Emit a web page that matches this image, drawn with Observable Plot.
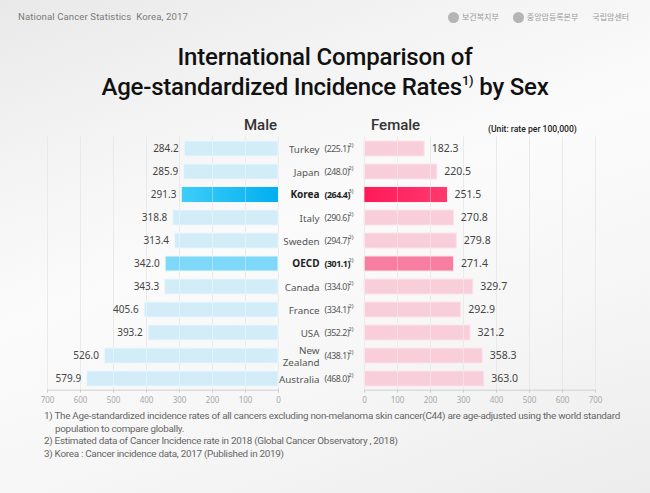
<!DOCTYPE html>
<html><head><meta charset="utf-8">
<script src="https://cdn.jsdelivr.net/npm/d3@7"></script>
<script src="https://cdn.jsdelivr.net/npm/@observablehq/plot@0.6"></script>
<style>
html,body{margin:0;padding:0;}
body{width:650px;height:493px;overflow:hidden;position:relative;font-family:Roboto,"Noto Sans",sans-serif;
 background:linear-gradient(160deg,#e9e9e9 0%,#f4f4f4 25%,#fbfbfb 45%,#f6f6f6 70%,#ececec 100%);}
.abs{position:absolute;white-space:nowrap;}
#hdr{left:18px;top:11px;font-size:9.6px;color:#7a7a7a;letter-spacing:0.1px;}
#logos{left:448px;top:11px;font-family:"Noto Sans CJK KR",sans-serif;font-size:8px;color:#9a9a9a;}
#logos span{margin-right:14px;}
#logos i{display:inline-block;width:11px;height:11px;border-radius:50%;background:#b5b5b5;vertical-align:middle;margin-right:3px;}
#title{left:0;width:650px;top:42px;text-align:center;font-size:24px;font-weight:500;color:#111;line-height:30px;letter-spacing:-0.2px;}
#title sup{font-size:13px;vertical-align:10px;line-height:0;}
.hd{font-size:15px;font-weight:500;color:#333;}
#male{left:244px;top:116px;}
#female{left:371px;top:116px;}
#unit{left:488px;top:124px;font-size:8.6px;font-weight:500;color:#222;}
#notes{left:44px;top:410px;font-size:9.9px;color:#666;line-height:12.6px;letter-spacing:-0.28px;}
#notes div.ind{padding-left:11px;}
svg{overflow:visible;}
g[aria-description="paren"] text{letter-spacing:-0.45px;}
</style></head><body>
<div class="abs" id="hdr">National Cancer Statistics&nbsp;&nbsp;Korea, 2017</div>
<div class="abs" id="logos"><span><i></i>보건복지부</span><span><i></i>중앙암등록본부</span><span>국립암센터</span></div>
<div class="abs" id="title">International Comparison of<br>Age-standardized Incidence Rates<sup>1)</sup> by Sex</div>
<div class="abs hd" id="male">Male</div>
<div class="abs hd" id="female">Female</div>
<div class="abs" id="unit">(Unit: rate per 100,000)</div>
<div class="abs" id="notes">
<div>1) The Age-standardized incidence rates of all cancers excluding non-melanoma skin cancer(C44) are age-adjusted using the world standard</div>
<div class="ind">population to compare globally.</div>
<div>2) Estimated data of Cancer Incidence rate in 2018 (Global Cancer Observatory , 2018)</div>
<div>3) Korea : Cancer incidence data, 2017 (Published in 2019)</div>
</div>
<div class="abs" id="leftChart" style="left:0;top:120px;"></div>
<div class="abs" id="rightChart" style="left:360px;top:120px;"></div>
<script>
const countries = ["Turkey","Japan","Korea","Italy","Sweden","OECD","Canada","France","USA","New Zealand","Australia"];
const countryLabels = ["Turkey","Japan","Korea","Italy","Sweden","OECD","Canada","France","USA","New\nZealand","Australia"];
const maleRates = [284.2,285.9,291.3,318.8,313.4,342.0,343.3,405.6,393.2,526.0,579.9];
const femaleRates = [182.3,220.5,251.5,270.8,279.8,271.4,329.7,292.9,321.2,358.3,363.0];
const totalRates = [225.1,248.0,264.4,290.6,294.7,301.1,334.0,334.1,352.2,438.1,468.0];
const noteMarks = ["2)","2)","3)","2)","2)","2)","2)","2)","2)","2)","2)"];
const xTicks = [0,100,200,300,400,500,600,700];

const rows = countries.map((c,i)=>({country:c,label:countryLabels[i],male:maleRates[i],female:femaleRates[i],total:totalRates[i],note:noteMarks[i],bold:(c==="Korea"||c==="OECD")}));

const maleColor = d => d.country==="Korea" ? "#1cbdf4" : d.country==="OECD" ? "#7fd8f8" : "#d2ecf8";
const femaleColor = d => d.country==="Korea" ? "#ff275f" : d.country==="OECD" ? "#f77ea1" : "#f8cedb";

function defs(){
  const d = d3.create("svg:defs");
  const g1 = d.append("linearGradient").attr("id","gMale");
  g1.append("stop").attr("offset","0").attr("stop-color","#3fcdf9");
  g1.append("stop").attr("offset","1").attr("stop-color","#00aff0");
  const g2 = d.append("linearGradient").attr("id","gFemale");
  g2.append("stop").attr("offset","0").attr("stop-color","#ff1a58");
  g2.append("stop").attr("offset","1").attr("stop-color","#ff3a6e");
  return d.node();
}

const common = {height:290, marginTop:16.7, marginBottom:20.3, style:{background:"transparent",overflow:"visible"}};
const yScale = {domain:countries, paddingInner:0.35, paddingOuter:0.15, axis:null};
const axisOpts = {tickSize:3,tickPadding:4,fontSize:8,stroke:"#cfcfcf",fill:"#a8a8a8",tickFormat:d=>d,label:null};

const left = Plot.plot({
  ...common, width:360, marginLeft:47, marginRight:82,
  x:{domain:[0,700], reverse:true, axis:null},
  y:yScale,
  marks:[
    defs,
    Plot.gridX(xTicks,{stroke:"#d8d8d8",strokeOpacity:0.8}),
    Plot.barX(rows,{x:"male",y:"country",fill:maleColor,stroke:"#eaf7fd",strokeWidth:1}),
    Plot.barX(rows.filter(d=>d.country==="Korea"),{x:"male",y:"country",fill:"url(#gMale)"}),
    Plot.gridX(xTicks,{stroke:"#ffffff",strokeOpacity:0.35}),
    Plot.frame({anchor:"bottom",stroke:"#cfcfcf"}),
    Plot.axisX(xTicks,axisOpts),
    Plot.text(rows,{x:"male",y:"country",text:d=>d.male.toFixed(1),textAnchor:"end",dx:-6,fontSize:10,fill:"#444"}),
    Plot.text(rows.filter(d=>!d.bold),{y:"country",frameAnchor:"right",text:"label",textAnchor:"end",dx:41,fontSize:9.8,fill:"#555",lineHeight:1.2}),
    Plot.text(rows.filter(d=>d.bold),{y:"country",frameAnchor:"right",text:"label",textAnchor:"end",dx:41,fontSize:10,fontWeight:"bold",fill:"#222"}),
    Plot.text(rows.filter(d=>!d.bold),{y:"country",frameAnchor:"right",text:d=>`(${d.total.toFixed(1)})`,textAnchor:"start",dx:46,fontSize:8.8,fill:"#555",ariaDescription:"paren"}),
    Plot.text(rows.filter(d=>d.bold),{y:"country",frameAnchor:"right",text:d=>`(${d.total.toFixed(1)})`,textAnchor:"start",dx:46,fontSize:8.8,fontWeight:"bold",fill:"#222",ariaDescription:"paren"}),
    Plot.text(rows,{y:"country",frameAnchor:"right",text:"note",textAnchor:"start",dx:70,dy:-4,fontSize:5.5,fill:"#444"})
  ]
});
document.getElementById("leftChart").append(left);

const right = Plot.plot({
  ...common, width:290, marginLeft:4, marginRight:55,
  x:{domain:[0,700], axis:null},
  y:yScale,
  marks:[
    defs,
    Plot.gridX(xTicks,{stroke:"#d8d8d8",strokeOpacity:0.8}),
    Plot.barX(rows,{x:"female",y:"country",fill:femaleColor,stroke:"#fbe3ea",strokeWidth:1}),
    Plot.barX(rows.filter(d=>d.country==="Korea"),{x:"female",y:"country",fill:"url(#gFemale)"}),
    Plot.gridX(xTicks,{stroke:"#ffffff",strokeOpacity:0.35}),
    Plot.frame({anchor:"bottom",stroke:"#cfcfcf"}),
    Plot.axisX(xTicks,axisOpts),
    Plot.text(rows,{x:"female",y:"country",text:d=>d.female.toFixed(1),textAnchor:"start",dx:7,fontSize:10.5,fill:"#444"})
  ]
});
document.getElementById("rightChart").append(right);
</script>
</body></html>
